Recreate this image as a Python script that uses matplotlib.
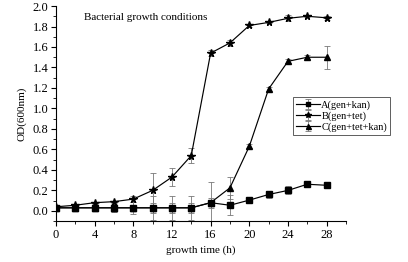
import matplotlib
matplotlib.use("Agg")
import matplotlib.pyplot as plt
from matplotlib.ticker import MultipleLocator

plt.rcParams['font.family'] = ['Liberation Serif', 'DejaVu Serif']

time_h = [0, 2, 4, 6, 8, 10, 12, 14, 16, 18, 20, 22, 24, 26, 28]
A_od = [0.03, 0.03, 0.03, 0.03, 0.03, 0.03, 0.03, 0.03, 0.08, 0.055, 0.105, 0.16, 0.20, 0.26, 0.25]
A_err = [0.01, 0.01, 0.02, 0.02, 0.03, 0.05, 0.05, 0.05, 0.05, 0.10, 0.02, 0.03, 0.04, 0.01, 0.01]
B_od = [0.04, 0.055, 0.08, 0.09, 0.115, 0.20, 0.33, 0.54, 1.54, 1.64, 1.81, 1.84, 1.88, 1.90, 1.885]
B_err = [0.01, 0.01, 0.01, 0.01, 0.03, 0.17, 0.09, 0.07, 0.03, 0.03, 0.01, 0.01, 0.03, 0.01, 0.02]
C_od = [0.03, 0.03, 0.03, 0.03, 0.03, 0.03, 0.03, 0.03, 0.08, 0.225, 0.63, 1.19, 1.46, 1.50, 1.50]
C_err = [0.01, 0.02, 0.03, 0.04, 0.06, 0.12, 0.12, 0.12, 0.20, 0.11, 0.02, 0.02, 0.02, 0.02, 0.11]
labels = ['A(gen+kan)', 'B(gen+tet)', 'C(gen+tet+kan)']
title = 'Bacterial growth conditions'

fig = plt.figure(figsize=(4.08, 2.62), dpi=100)
ax = fig.add_axes([0.137, 0.156, 0.711, 0.821])

err_kw = dict(ecolor='#777777', elinewidth=0.6, capsize=2, capthick=0.6)
ax.errorbar(time_h, A_od, yerr=A_err, color='black', lw=0.85, marker='s', ms=4, label=labels[0], **err_kw)
ax.errorbar(time_h, B_od, yerr=B_err, color='black', lw=0.85, marker='*', ms=5.5, label=labels[1], **err_kw)
ax.errorbar(time_h, C_od, yerr=C_err, color='black', lw=0.85, marker='^', ms=4.5, label=labels[2], **err_kw)

ax.set_xlim(0, 30)
ax.set_ylim(-0.1, 2.0)
ax.xaxis.set_minor_locator(MultipleLocator(2))
ax.yaxis.set_major_locator(MultipleLocator(0.2))
ax.yaxis.set_minor_locator(MultipleLocator(0.1))
ax.set_xticks([0, 4, 8, 12, 16, 20, 24, 28])
ax.yaxis.set_major_formatter(matplotlib.ticker.FormatStrFormatter('%.1f'))
ax.spines['top'].set_visible(False)
ax.spines['right'].set_visible(False)
ax.tick_params(direction='out', length=3.5, width=0.8, labelsize=9, pad=2)
ax.tick_params(which='minor', direction='out', length=2, width=0.6)
ax.set_xlabel('growth time (h)', fontsize=8, labelpad=3)
ax.set_ylabel('OD(600nm)', fontsize=8, labelpad=4)
ax.text(2.9, 1.89, title, fontsize=8, va='center', ha='left')

leg = ax.legend(loc='upper left', bbox_to_anchor=(0.818, 0.575), fontsize=7.5,
                frameon=True, fancybox=False, edgecolor='#444444', framealpha=1,
                handlelength=2.3, handletextpad=0.15, borderpad=0.25, labelspacing=0.15,
                borderaxespad=0, markerscale=0.8)
leg.get_frame().set_linewidth(0.6)

fig.savefig('out.png', dpi=100)
